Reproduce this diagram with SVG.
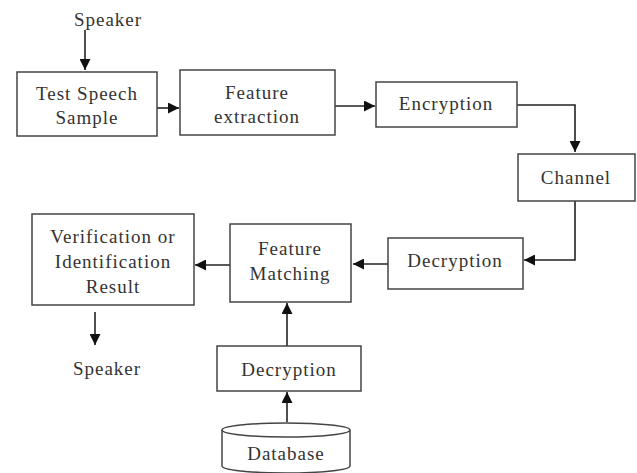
<svg xmlns="http://www.w3.org/2000/svg" width="637" height="473" viewBox="0 0 637 473">
<defs>
<marker id="ah" viewBox="0 0 10 10" refX="10" refY="5" markerWidth="11" markerHeight="11" markerUnits="userSpaceOnUse" orient="auto">
<path d="M0,0 L10,5 L0,10 Z" fill="#111"/>
</marker>
</defs>
<style>
.box{fill:#fff;stroke:#444;stroke-width:1.5}
.t{font-family:"Liberation Serif","Times New Roman",serif;font-size:19px;fill:#333;text-anchor:middle;letter-spacing:1px}
.c{fill:none;stroke:#222;stroke-width:1.6;marker-end:url(#ah)}
.l{fill:none;stroke:#222;stroke-width:1.6}
</style>
<rect width="637" height="473" fill="#fff"/>
<g id="connectors">
<line class="c" x1="85" y1="30" x2="85" y2="70"/>
<line class="c" x1="157" y1="108" x2="179" y2="108"/>
<line class="c" x1="335" y1="106" x2="375" y2="106"/>
<polyline class="c" points="517,105 575,105 575,152"/>
<polyline class="c" points="575,201 575,260 524,260"/>
<line class="c" x1="388" y1="264" x2="353" y2="264"/>
<line class="c" x1="230" y1="265" x2="195" y2="265"/>
<line class="c" x1="95" y1="312" x2="95" y2="345"/>
<line class="c" x1="287" y1="346" x2="287" y2="303"/>
<line class="c" x1="287" y1="422" x2="287" y2="392"/>
</g>
<g id="speaker-in"><text class="t" x="108" y="26">Speaker</text></g>
<g id="test-speech"><rect class="box" x="17" y="72" width="140" height="64"/><text class="t" x="87" y="100">Test Speech</text><text class="t" x="87" y="124">Sample</text></g>
<g id="feature-extraction"><rect class="box" x="180" y="70" width="155" height="65"/><text class="t" x="257" y="99">Feature</text><text class="t" x="257" y="123">extraction</text></g>
<g id="encryption"><rect class="box" x="376" y="82" width="141" height="45"/><text class="t" x="446" y="110">Encryption</text></g>
<g id="channel"><rect class="box" x="518" y="154" width="117" height="47"/><text class="t" x="576" y="184">Channel</text></g>
<g id="decryption1"><rect class="box" x="388" y="238" width="135" height="51"/><text class="t" x="455" y="267">Decryption</text></g>
<g id="feature-matching"><rect class="box" x="230" y="224" width="121" height="78"/><text class="t" x="290" y="255">Feature</text><text class="t" x="290" y="280">Matching</text></g>
<g id="result"><rect class="box" x="32" y="214" width="162" height="91"/><text class="t" x="113" y="243">Verification or</text><text class="t" x="113" y="268">Identification</text><text class="t" x="113" y="293">Result</text></g>
<g id="speaker-out"><text class="t" x="107" y="375">Speaker</text></g>
<g id="decryption2"><rect class="box" x="217" y="346" width="144" height="45"/><text class="t" x="289" y="376">Decryption</text></g>
<g id="database"><path class="box" d="M222,430 L222,466 A64,7 0 0 0 350,466 L350,430"/><ellipse class="box" cx="286" cy="430" rx="64" ry="7"/><text class="t" x="286" y="460">Database</text></g>
</svg>
